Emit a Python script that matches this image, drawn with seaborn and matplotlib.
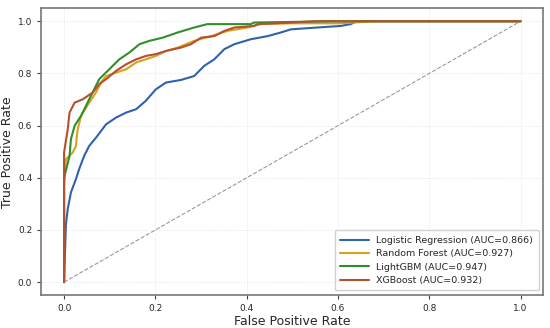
import matplotlib
matplotlib.use("Agg")
import matplotlib.pyplot as plt
import seaborn as sns
import pandas as pd

# ROC points (fpr, tpr)
lr_fpr = [0.0, 0.0, 0.004, 0.008, 0.015, 0.026, 0.033, 0.044, 0.055, 0.07, 0.092, 0.114,
          0.136, 0.158, 0.179, 0.201, 0.223, 0.256, 0.285, 0.307, 0.329, 0.351, 0.373,
          0.409, 0.446, 0.475, 0.497, 0.555, 0.606, 0.628, 0.64, 1.0]
lr_tpr = [0.0, 0.0, 0.222, 0.28, 0.344, 0.395, 0.433, 0.484, 0.522, 0.554, 0.605, 0.631,
          0.65, 0.663, 0.695, 0.739, 0.765, 0.775, 0.79, 0.829, 0.854, 0.893, 0.912,
          0.931, 0.943, 0.957, 0.969, 0.976, 0.982, 0.989, 1.0, 1.0]

rf_fpr = [0.0, 0.0, 0.004, 0.019, 0.026, 0.028, 0.03, 0.037, 0.055, 0.07, 0.081, 0.092,
          0.114, 0.136, 0.158, 0.179, 0.201, 0.223, 0.249, 0.285, 0.322, 0.358, 0.402,
          0.431, 0.497, 0.6, 0.686, 1.0]
rf_tpr = [0.0, 0.37, 0.471, 0.497, 0.522, 0.56, 0.586, 0.637, 0.688, 0.727, 0.765, 0.79,
          0.803, 0.816, 0.842, 0.854, 0.867, 0.886, 0.899, 0.925, 0.943, 0.963, 0.976,
          0.989, 0.992, 0.992, 1.0, 1.0]

lgb_fpr = [0.0, 0.0, 0.012, 0.015, 0.023, 0.037, 0.052, 0.077, 0.099, 0.121, 0.143,
           0.165, 0.187, 0.216, 0.249, 0.285, 0.314, 0.409, 0.416, 0.59, 1.0]
lgb_tpr = [0.0, 0.40, 0.484, 0.548, 0.599, 0.637, 0.69, 0.778, 0.816, 0.854, 0.88,
           0.912, 0.925, 0.937, 0.957, 0.976, 0.989, 0.989, 0.995, 1.0, 1.0]

xgb_fpr = [0.0, 0.0, 0.008, 0.012, 0.023, 0.041, 0.063, 0.077, 0.092, 0.114, 0.136,
           0.158, 0.179, 0.201, 0.223, 0.256, 0.278, 0.3, 0.329, 0.351, 0.373, 0.416,
           0.424, 0.497, 0.55, 1.0]
xgb_tpr = [0.0, 0.497, 0.586, 0.65, 0.688, 0.701, 0.727, 0.759, 0.778, 0.81, 0.835,
           0.854, 0.867, 0.874, 0.886, 0.899, 0.912, 0.937, 0.943, 0.963, 0.976, 0.982,
           0.989, 0.995, 1.0, 1.0]

models = ["Logistic Regression", "Random Forest", "LightGBM", "XGBoost"]
aucs = [0.866, 0.927, 0.947, 0.932]
colors = ["#2f62ad", "#d6a21f", "#2f8f2a", "#b5502f"]

curves = [(lr_fpr, lr_tpr), (rf_fpr, rf_tpr), (lgb_fpr, lgb_tpr), (xgb_fpr, xgb_tpr)]

sns.set_style("whitegrid")
plt.rcParams["font.family"] = ["DejaVu Sans"]

fig, ax = plt.subplots(figsize=(5.5, 3.28), dpi=100)

for name, auc, color, (fpr, tpr) in zip(models, aucs, colors, curves):
    df = pd.DataFrame({"fpr": fpr, "tpr": tpr})
    sns.lineplot(data=df, x="fpr", y="tpr", ax=ax, color=color, lw=1.5,
                 sort=False, estimator=None, label=f"{name} (AUC={auc:.3f})")

ax.plot([0, 1], [0, 1], linestyle="--", color="gray", lw=0.8, alpha=0.8)

ax.set_xlim(-0.05, 1.05)
ax.set_ylim(-0.05, 1.05)
ax.set_xticks([0.0, 0.2, 0.4, 0.6, 0.8, 1.0])
ax.set_yticks([0.0, 0.2, 0.4, 0.6, 0.8, 1.0])
ax.tick_params(axis="both", labelsize=6.5, length=3, color="#444444", left=True, bottom=True)
ax.set_xlabel("False Positive Rate", fontsize=9, labelpad=1)
ax.set_ylabel("True Positive Rate", fontsize=9, labelpad=3)

ax.grid(True, linestyle=(0, (2, 2)), linewidth=0.5, color="#dddddd", alpha=0.8)
for s in ax.spines.values():
    s.set_color("#777777")
    s.set_linewidth(1.2)

ax.legend(loc="lower right", fontsize=6.8, frameon=True, framealpha=0.9,
          edgecolor="#cccccc", handlelength=3.0, borderpad=0.6, labelspacing=0.45)

plt.subplots_adjust(left=0.075, right=0.988, top=0.975, bottom=0.1)
plt.savefig("out.png", dpi=100)
